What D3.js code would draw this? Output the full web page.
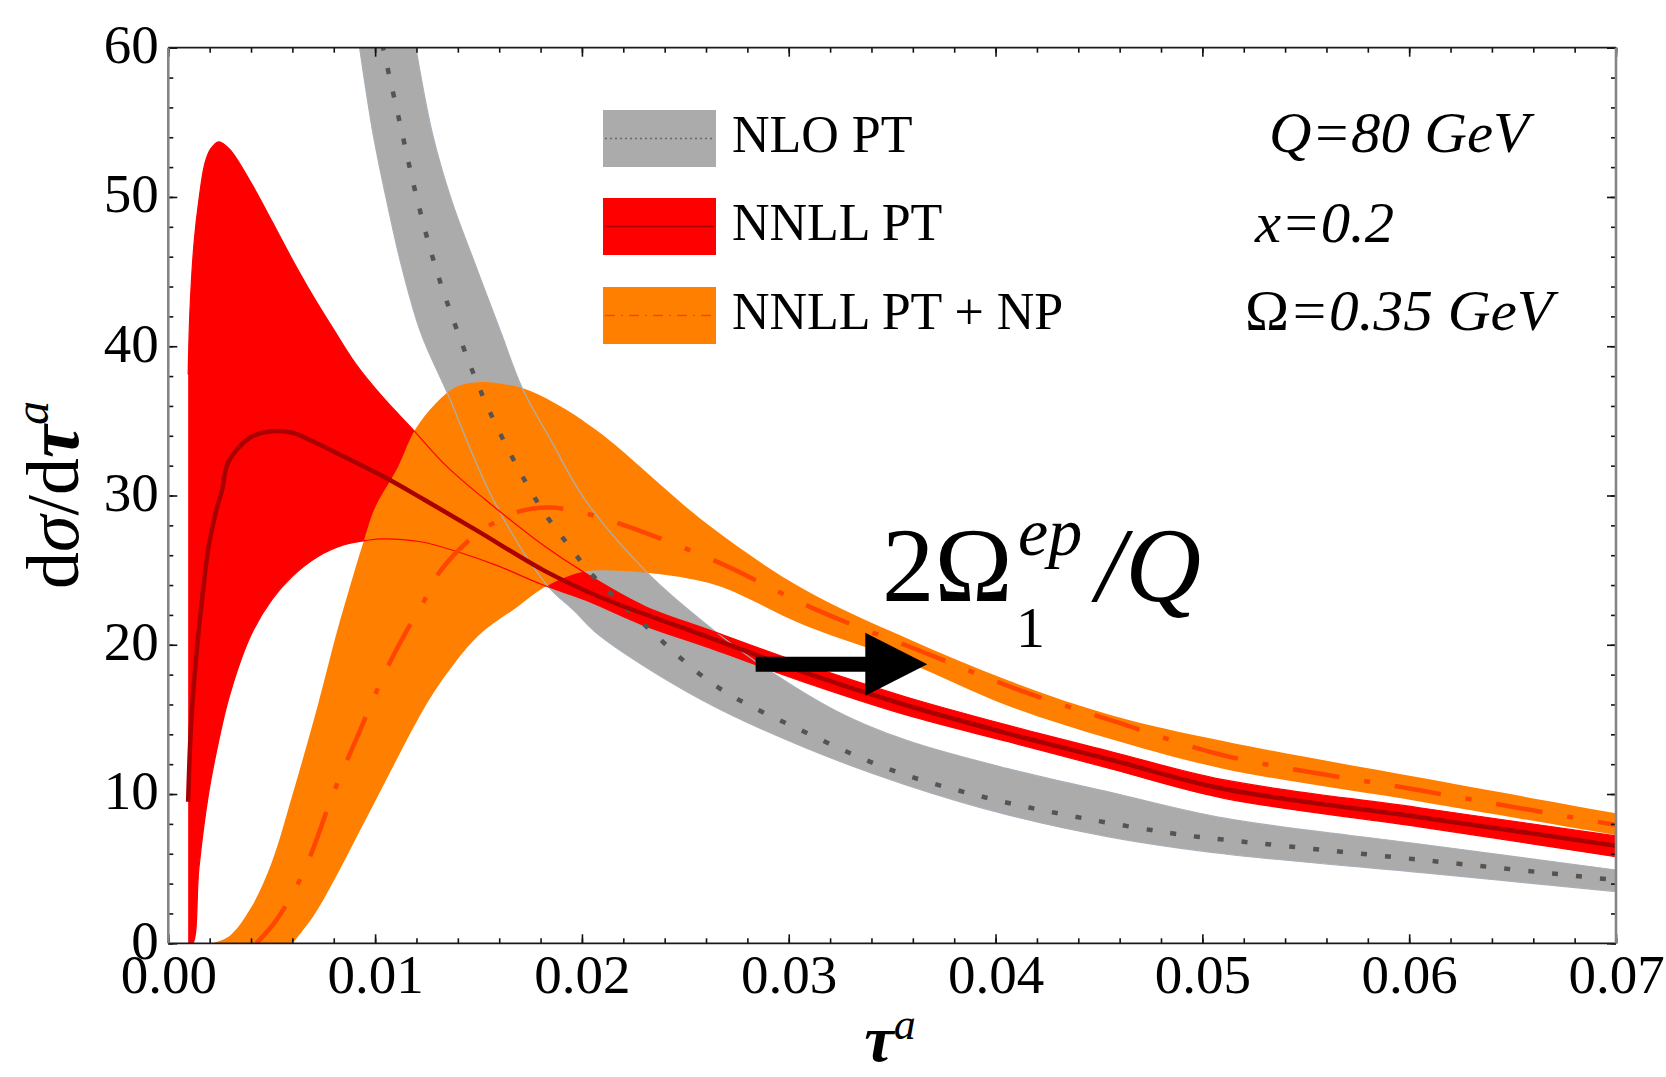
<!DOCTYPE html>
<html>
<head>
<meta charset="utf-8">
<script src="https://cdn.jsdelivr.net/npm/d3@7"></script>
<style>
  body { margin: 0; background: #fff; }
  svg { display: block; }
</style>
</head>
<body>
<div id="wrapper"></div>
<script>
// ---- data (tau^a, dsigma/dtau^a) ----
const xTickValues = [0, 0.01, 0.02, 0.03, 0.04, 0.05, 0.06, 0.07];
const xTickLabels = ["0.00", "0.01", "0.02", "0.03", "0.04", "0.05", "0.06", "0.07"];
const yTickValues = [0, 10, 20, 30, 40, 50, 60];

// NLO PT (grey band + dotted central line)
const nloUpper = [[0.01197,60],[0.01277,54.25],[0.01369,49.8],[0.01489,45.3],[0.01609,40.9],[0.01711,37.2],[0.0185,33.7],[0.02016,29.7],[0.02318,24.8],[0.02581,21.6],[0.02844,18.85],[0.03239,15.5],[0.0357,13.6],[0.0406,11.7],[0.0456,10.1],[0.051,8.4],[0.0605,6.65],[0.07,4.91]];
const nloLower = [[0.00925,60],[0.0099,54.25],[0.01055,49.8],[0.01129,45.3],[0.01221,40.9],[0.01351,36.8],[0.01572,29.7],[0.01831,24.0],[0.01961,22.3],[0.02087,20.6],[0.0258,16.3],[0.0308,13.1],[0.0357,10.6],[0.0406,8.6],[0.0456,7.1],[0.051,6.0],[0.0605,4.75],[0.07,3.46]];
const nloCentral = [[0.01035,60.2],[0.01119,55.0],[0.01197,50.2],[0.0129,45.4],[0.01406,40.7],[0.01535,36.2],[0.01696,31.7],[0.01813,28.95],[0.01961,26.2],[0.02035,24.9],[0.02285,21.56],[0.02647,17.25],[0.03075,14.17],[0.03502,11.58],[0.03963,9.73],[0.04424,8.38],[0.04901,7.27],[0.051,6.95],[0.0605,5.6],[0.07,4.23]];

// NNLL PT (red band + dark red central line)
const nnllUpper = [[0.00096,38.1],[0.00105,42.5],[0.00125,47.0],[0.00148,49.8],[0.00176,52.2],[0.00204,53.2],[0.00244,53.7],[0.00296,53.2],[0.00398,51.0],[0.005,48.4],[0.00592,46.0],[0.00694,43.5],[0.00796,41.2],[0.00907,38.8],[0.01036,36.6],[0.01184,34.4],[0.0135,31.9],[0.01535,29.7],[0.018,26.8],[0.02016,24.8],[0.023,22.6],[0.02614,21.0],[0.03075,18.7],[0.03568,16.5],[0.04062,14.6],[0.04556,12.85],[0.051,10.96],[0.0605,9.08],[0.07,7.19]];
const nnllLower = [[0.00096,0],[0.00118,0],[0.00148,5.05],[0.00194,9.98],[0.00241,13.4],[0.00296,16.6],[0.00398,20.6],[0.005,23.0],[0.00601,24.6],[0.00722,25.9],[0.00851,26.7],[0.00962,27.0],[0.01036,27.1],[0.01221,26.9],[0.01406,26.2],[0.01591,25.3],[0.01813,24.0],[0.02016,23.0],[0.023,21.3],[0.02614,19.8],[0.03075,17.5],[0.03568,15.3],[0.04062,13.5],[0.04556,11.7],[0.051,9.73],[0.0605,7.8],[0.07,5.8]];
const nnllCentral = [[0.00096,9.48],[0.00111,14.9],[0.00139,19.8],[0.00167,23.5],[0.00194,26.5],[0.00231,28.95],[0.00259,30.3],[0.00292,32.3],[0.00398,33.9],[0.005,34.3],[0.00601,34.2],[0.00703,33.6],[0.00851,32.6],[0.01036,31.3],[0.0124,29.7],[0.01499,27.6],[0.01813,25.0],[0.02087,23.2],[0.02614,20.5],[0.03075,18.15],[0.03568,15.95],[0.04062,14.05],[0.04556,12.3],[0.051,10.35],[0.0605,8.45],[0.07,6.54]];

// NNLL PT + NP (orange band + dot-dashed central line)
const npUpper = [[0.00213,0],[0.00296,0.49],[0.00398,2.34],[0.005,5.42],[0.00601,9.98],[0.00722,15.9],[0.00814,20.8],[0.0087,23.5],[0.00944,26.9],[0.01,29.2],[0.0111,31.9],[0.01193,34.4],[0.01295,36.2],[0.01397,37.3],[0.01526,37.6],[0.016,37.5],[0.01711,37.2],[0.01868,36.2],[0.02087,34.2],[0.02614,28.0],[0.03075,23.7],[0.03568,20.45],[0.04062,17.6],[0.04556,15.3],[0.051,13.55],[0.0605,11.1],[0.07,8.71]];
const npLower = [[0.00601,0],[0.00703,1.85],[0.00796,4.07],[0.00907,7.02],[0.01036,10.47],[0.01203,14.9],[0.01313,17.4],[0.01499,20.6],[0.01684,22.5],[0.01813,23.8],[0.0198,24.8],[0.02087,25.0],[0.0261,24.15],[0.03075,21.31],[0.03568,18.85],[0.04062,15.9],[0.04556,13.68],[0.051,11.7],[0.0605,9.5],[0.07,7.25]];
const npCentral = [[0.00426,0],[0.00518,1.47],[0.00611,3.57],[0.00685,5.79],[0.00796,9.98],[0.00925,14.2],[0.01055,18.36],[0.01147,20.8],[0.01239,23.0],[0.01313,24.9],[0.01499,27.5],[0.01702,28.95],[0.0185,29.2],[0.02016,28.8],[0.02186,28.1],[0.02647,25.6],[0.03141,22.3],[0.03634,19.6],[0.04128,16.9],[0.04621,14.66],[0.051,12.6],[0.0605,10.25],[0.07,7.92]];

// shift arrow 2*Omega/Q
const arrowFrom = [0.0284, 18.7];
const arrowTo = [0.0367, 18.7];

const legendLabels = ["NLO PT", "NNLL PT", "NNLL PT + NP"];

// ---- chart ----
const FONT = '"Liberation Serif"';

const dimensions = {
  width: 1666,
  height: 1077,
  margin: { top: 47.7, right: 50, bottom: 133.7, left: 168.3 },
};
dimensions.boundedWidth = dimensions.width - dimensions.margin.left - dimensions.margin.right;
dimensions.boundedHeight = dimensions.height - dimensions.margin.top - dimensions.margin.bottom;

const svg = d3.select("#wrapper")
  .append("svg")
  .attr("width", dimensions.width)
  .attr("height", dimensions.height);

const bounds = svg.append("g")
  .attr("transform", `translate(${dimensions.margin.left}, ${dimensions.margin.top})`);

bounds.append("defs").append("clipPath")
  .attr("id", "plot-clip")
  .append("rect")
  .attr("width", dimensions.boundedWidth)
  .attr("height", dimensions.boundedHeight);

const xScale = d3.scaleLinear().domain([0, 0.07]).range([0, dimensions.boundedWidth]);
const yScale = d3.scaleLinear().domain([0, 60]).range([dimensions.boundedHeight, 0]);

const line = d3.line()
  .x(d => xScale(d[0]))
  .y(d => yScale(d[1]))
  .curve(d3.curveCatmullRom.alpha(0.5));
// closed band: upper edge left->right, then lower edge right->left
const band = (upper, lower) => line(upper) + "L" + line(lower.slice().reverse()).slice(1) + "Z";

const plot = bounds.append("g").attr("clip-path", "url(#plot-clip)");

// fills
plot.append("path").attr("d", band(nloUpper, nloLower)).attr("fill", "#ababab");
plot.append("path").attr("d", band(nnllUpper, nnllLower)).attr("fill", "#ff0000");
plot.append("path").attr("d", band(npUpper, npLower)).attr("fill", "#ff8000");

// band edges drawn on top
[nloUpper, nloLower].forEach(edge => {
  plot.append("path").attr("d", line(edge))
    .attr("fill", "none").attr("stroke", "#a7b0b8").attr("stroke-width", 1.2);
});
[nnllUpper, nnllLower].forEach(edge => {
  plot.append("path").attr("d", line(edge))
    .attr("fill", "none").attr("stroke", "#ff0000").attr("stroke-width", 1.2);
});

// central lines
plot.append("path").attr("d", line(nloCentral))
  .attr("fill", "none").attr("stroke", "#545454").attr("stroke-width", 4.5)
  .attr("stroke-dasharray", "6,18");
plot.append("path").attr("d", line(nnllCentral))
  .attr("fill", "none").attr("stroke", "#aa0000").attr("stroke-width", 4.5)
  .attr("stroke-linejoin", "round");
plot.append("path").attr("d", line(npCentral))
  .attr("fill", "none").attr("stroke", "#ff4500").attr("stroke-width", 4.5)
  .attr("stroke-dasharray", "47,25,6,25");

// arrow
const ax0 = xScale(arrowFrom[0]), ax1 = xScale(arrowTo[0]), ay = yScale(arrowFrom[1]);
const headLen = 62, headHalf = 31.5, shaftHalf = 7.5;
bounds.append("path")
  .attr("d", `M${ax0},${ay - shaftHalf}L${ax1 - headLen},${ay - shaftHalf}L${ax1 - headLen},${ay - headHalf}L${ax1},${ay}L${ax1 - headLen},${ay + headHalf}L${ax1 - headLen},${ay + shaftHalf}L${ax0},${ay + shaftHalf}Z`)
  .attr("fill", "#000");

// annotation 2 Omega_1^ep / Q
const ann = svg.append("text")
  .attr("x", 882).attr("y", 601)
  .style("font-size", "105px");
ann.append("tspan").text("2Ω");
ann.append("tspan").attr("x", 1018).attr("y", 555).style("font-size", "68px").style("font-style", "italic").text("ep");
ann.append("tspan").attr("x", 1016).attr("y", 647).style("font-size", "58px").text("1");
ann.append("tspan").attr("x", 1096).attr("y", 601).style("font-style", "italic").text("/Q");

// axes: ticks inward on all four sides
const majorLen = 9, minorLen = 5;
const xMinor = d3.range(0, 0.0701, 0.002);
const yMinor = d3.range(0, 60.1, 2);

const xAxisBottom = d3.axisBottom(xScale).tickValues(xTickValues)
  .tickSize(-majorLen).tickPadding(11)
  .tickFormat((d, i) => xTickLabels[i]);
bounds.append("g").attr("class", "x-axis")
  .attr("transform", `translate(0, ${dimensions.boundedHeight})`)
  .call(xAxisBottom)
  .call(g => g.select(".domain").remove())
  .call(g => g.selectAll("text").style("font-size", "55px"));
bounds.append("g")
  .attr("transform", `translate(0, ${dimensions.boundedHeight})`)
  .call(d3.axisBottom(xScale).tickValues(xMinor).tickSize(-minorLen).tickFormat(""))
  .call(g => g.select(".domain").remove());
bounds.append("g")
  .call(d3.axisTop(xScale).tickValues(xTickValues).tickSize(-majorLen).tickFormat(""))
  .call(g => g.select(".domain").remove());
bounds.append("g")
  .call(d3.axisTop(xScale).tickValues(xMinor).tickSize(-minorLen).tickFormat(""))
  .call(g => g.select(".domain").remove());

const yAxisLeft = d3.axisLeft(yScale).tickValues(yTickValues)
  .tickSize(-majorLen).tickPadding(9.5);
bounds.append("g").attr("class", "y-axis")
  .call(yAxisLeft)
  .call(g => g.select(".domain").remove())
  .call(g => g.selectAll("text").attr("dy", "0.27em").style("font-size", "55px"));
bounds.append("g")
  .call(d3.axisLeft(yScale).tickValues(yMinor).tickSize(-minorLen).tickFormat(""))
  .call(g => g.select(".domain").remove());
bounds.append("g")
  .attr("transform", `translate(${dimensions.boundedWidth}, 0)`)
  .call(d3.axisRight(yScale).tickValues(yTickValues).tickSize(-majorLen).tickFormat(""))
  .call(g => g.select(".domain").remove());
bounds.append("g")
  .attr("transform", `translate(${dimensions.boundedWidth}, 0)`)
  .call(d3.axisRight(yScale).tickValues(yMinor).tickSize(-minorLen).tickFormat(""))
  .call(g => g.select(".domain").remove());
bounds.selectAll(".tick line").attr("stroke", "#111").attr("stroke-width", 1.6);
bounds.selectAll("g").attr("font-family", null);

// frame
bounds.append("line").attr("x1", 0).attr("x2", dimensions.boundedWidth).attr("y1", 0).attr("y2", 0)
  .attr("stroke", "#1a1a1a").attr("stroke-width", 1.8);
bounds.append("line").attr("x1", 0).attr("x2", dimensions.boundedWidth)
  .attr("y1", dimensions.boundedHeight).attr("y2", dimensions.boundedHeight)
  .attr("stroke", "#1a1a1a").attr("stroke-width", 1.8);
bounds.append("line").attr("x1", 0).attr("x2", 0).attr("y1", 0).attr("y2", dimensions.boundedHeight)
  .attr("stroke", "#858585").attr("stroke-width", 2.6);
bounds.append("line").attr("x1", dimensions.boundedWidth).attr("x2", dimensions.boundedWidth)
  .attr("y1", 0).attr("y2", dimensions.boundedHeight)
  .attr("stroke", "#858585").attr("stroke-width", 2.6);

// axis labels
const yLabel = svg.append("text")
  .attr("transform", "translate(78, 495) rotate(-90)")
  .attr("text-anchor", "middle")
  .style("font-size", "74px");
yLabel.append("tspan").text("d");
yLabel.append("tspan").style("font-style", "italic").text("σ");
yLabel.append("tspan").text("/d");
yLabel.append("tspan").style("font-style", "italic").style("font-weight", "bold").text("τ");
yLabel.append("tspan").attr("dy", -30).style("font-style", "italic").style("font-size", "48px").text("a");

const xLabel = svg.append("text")
  .attr("x", 890).attr("y", 1061)
  .attr("text-anchor", "middle")
  .style("font-size", "66px");
xLabel.append("tspan").style("font-style", "italic").style("font-weight", "bold").text("τ");
xLabel.append("tspan").attr("dy", -22).style("font-style", "italic").style("font-size", "44px").text("a");

// legend
const legendTop = [110, 198, 287];
const legendFill = ["#ababab", "#ff0000", "#ff8000"];
const legendStroke = ["#6a6a6a", "#aa0000", "#ff4500"];
const legendDash = ["2,3", null, "10,6,2,6"];
const legend = svg.append("g");
legendLabels.forEach((label, i) => {
  legend.append("rect").attr("x", 603).attr("y", legendTop[i])
    .attr("width", 113).attr("height", 57).attr("fill", legendFill[i]);
  legend.append("line").attr("x1", 605).attr("x2", 714)
    .attr("y1", legendTop[i] + 28.5).attr("y2", legendTop[i] + 28.5)
    .attr("stroke", legendStroke[i]).attr("stroke-width", 1.5)
    .attr("stroke-dasharray", legendDash[i]);
  legend.append("text").attr("x", 732).attr("y", legendTop[i] + 42)
    .style("font-size", "52px").text(label);
});

// parameters
svg.append("text").attr("x", 1269).attr("y", 152)
  .attr("textLength", 260).attr("lengthAdjust", "spacingAndGlyphs")
  .style("font-size", "56px").style("font-style", "italic").text("Q=80 GeV");
svg.append("text").attr("x", 1255).attr("y", 242)
  .attr("textLength", 139).attr("lengthAdjust", "spacingAndGlyphs")
  .style("font-size", "56px").style("font-style", "italic").text("x=0.2");
const p3 = svg.append("text").attr("x", 1245).attr("y", 330)
  .attr("textLength", 308).attr("lengthAdjust", "spacingAndGlyphs")
  .style("font-size", "56px");
p3.append("tspan").text("Ω");
p3.append("tspan").style("font-style", "italic").text("=0.35 GeV");

// one serif family for every text
svg.selectAll("text").style("font-family", FONT).style("fill", "#000");
</script>
</body>
</html>
